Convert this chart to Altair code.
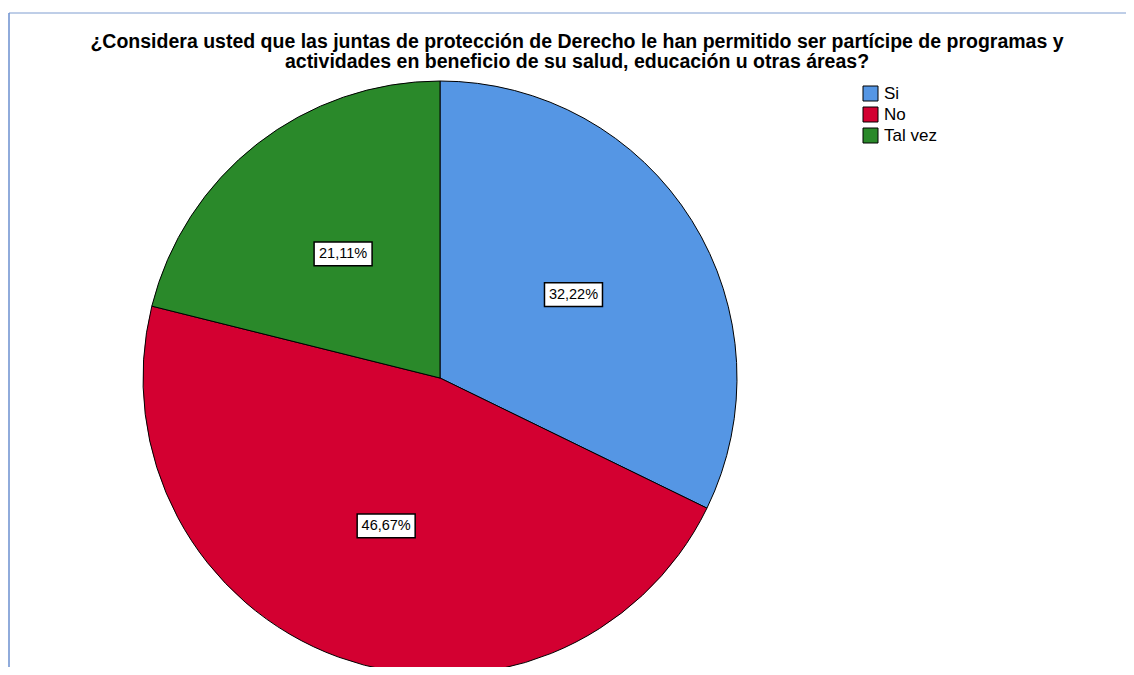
import altair as alt
import pandas as pd

categories = ["Si", "No", "Tal vez"]
values = [32.22, 46.67, 21.11]
labels = ["32,22%", "46,67%", "21,11%"]
colors = ["#5596e4", "#d30031", "#2a892a"]
title_lines = [
    "¿Considera usted que las juntas de protección de Derecho le han permitido ser partícipe de programas y",
    "actividades en beneficio de su salud, educación u otras áreas?",
]

W, H = 1118, 659
CX, CY, R = 432, 370, 297
LR = 0.53

df = pd.DataFrame({"cat": categories, "val": values, "lab": labels, "idx": list(range(len(categories)))})

xs = alt.Scale(domain=[-CX / R, (W - CX) / R], nice=False, zero=False)
ys = alt.Scale(domain=[-(H - CY) / R, CY / R], nice=False, zero=False)

base = alt.Chart(df)

pie = base.mark_arc(stroke="black", strokeWidth=1, opacity=1, outerRadius=R).encode(
    theta=alt.Theta("val:Q", stack=True),
    color=alt.Color("cat:N", scale=alt.Scale(domain=categories, range=colors),
                    sort=categories,
                    legend=alt.Legend(title=None, orient="none", legendX=854, legendY=77,
                                      symbolType="square", symbolSize=225,
                                      symbolStrokeColor="black", symbolStrokeWidth=1,
                                      symbolOpacity=1, labelFont="Liberation Sans",
                                      labelFontSize=17, labelColor="black",
                                      rowPadding=2, labelOffset=5)),
    order=alt.Order("idx:Q"),
    x=alt.value(CX), y=alt.value(CY),
)

pos = base.transform_joinaggregate(total="sum(val)").transform_window(
    cum="sum(val)", sort=[alt.SortField("idx")], frame=[None, 0]
).transform_calculate(
    mid="(datum.cum - datum.val/2)/datum.total*2*PI",
).transform_calculate(
    px=f"sin(datum.mid)*{LR}", py=f"cos(datum.mid)*{LR}"
)

box = pos.mark_point(shape="M-1,-0.41L1,-0.41L1,0.41L-1,0.41Z", filled=True, fill="white",
                     stroke="black", strokeWidth=1.5, opacity=1, size=3364).encode(
    x=alt.X("px:Q", scale=xs, axis=None), y=alt.Y("py:Q", scale=ys, axis=None))

txt = pos.mark_text(font="Liberation Sans", fontSize=14.5, color="black", baseline="middle").encode(
    x=alt.X("px:Q", scale=xs, axis=None), y=alt.Y("py:Q", scale=ys, axis=None), text="lab:N")

title = base.mark_text(text=title_lines, font="Liberation Sans", fontSize=19.5, fontWeight="bold",
                       lineHeight=20, align="center", baseline="alphabetic", color="black").encode(
    x=alt.value(569), y=alt.value(40)).transform_filter("datum.idx == 0")

border_top = base.mark_rule(color="#7f9dd0", strokeWidth=1).encode(
    x=alt.value(1), x2=alt.value(W), y=alt.value(5)).transform_filter("datum.idx == 0")
border_left = base.mark_rule(color="#6b8fcf", strokeWidth=1.5).encode(
    x=alt.value(1), y=alt.value(5), y2=alt.value(H)).transform_filter("datum.idx == 0")

chart = alt.layer(border_top, border_left, pie, box, txt, title).properties(
    width=W, height=H, autosize=alt.AutoSizeParams(type="none"), padding=0
).configure_view(stroke=None).resolve_scale(x="shared", y="shared")

chart.save("out.html", embed_options={"renderer": "svg", "actions": False})
